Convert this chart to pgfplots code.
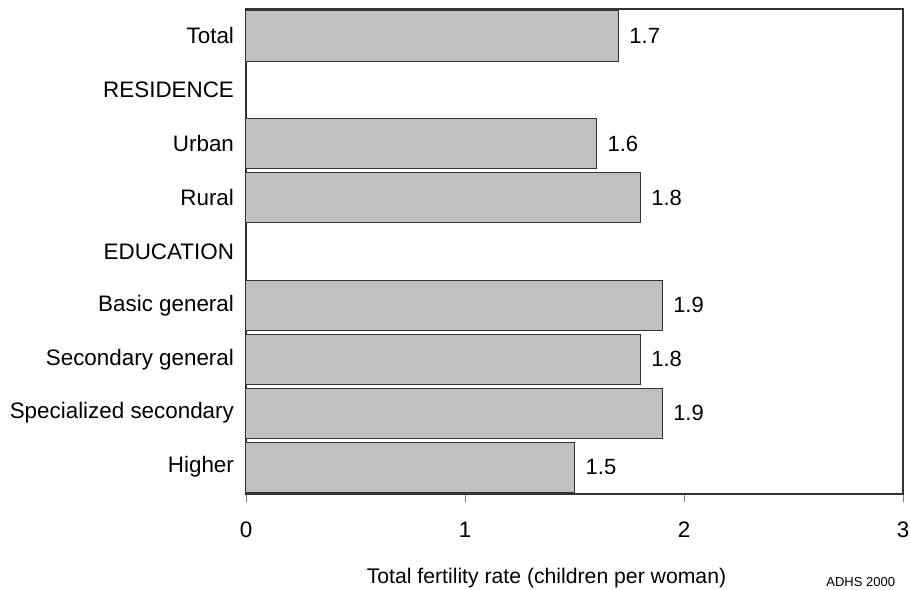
\documentclass[border=0pt]{standalone}
\usepackage{pgfplots}
\pgfplotsset{compat=1.18}
\usepackage{fontspec}
\setmainfont{Liberation Sans}
\definecolor{barfill}{RGB}{192,192,192}
\begin{document}
\begin{tikzpicture}
\begin{axis}[
  scale only axis,
  width=328.5pt, height=242.5pt,
  xbar, bar width=0.93,
  xmin=0, xmax=3,
  ymin=-0.5, ymax=8.5,
  y dir=reverse,
  xtick={0,1,2,3},
  ytick={0,...,8},
  yticklabels={Total,RESIDENCE,Urban,Rural,EDUCATION,Basic general,Secondary general,Specialized secondary,Higher},
  tick label style={font=\fontsize{11.2}{13}\selectfont},
  /pgf/number format/assume math mode=true,
  xtick pos=bottom, tick align=outside,
  major tick length=4pt,
  ytick style={draw=none},
  yticklabel style={xshift=1.5pt},
  xticklabel style={anchor=center, yshift=-14pt},
  axis line style={draw=black!80, line width=0.6pt},
  xlabel={Total fertility rate (children per woman)},
  xlabel style={font=\fontsize{10.6}{12}\selectfont, at={(axis description cs:0.5,0)}, anchor=center, yshift=-42pt, xshift=-14pt},
  point meta=explicit symbolic,
  nodes near coords,
  every node near coord/.append style={anchor=west, font=\fontsize{11}{13}\selectfont, xshift=2pt},
  clip=false,
]
\addplot[fill=barfill, draw=black!80, line width=0.5pt] coordinates {
  (1.7,0) [1.7]
  (1.6,2) [1.6]
  (1.8,3) [1.8]
  (1.9,5) [1.9]
  (1.8,6) [1.8]
  (1.9,7) [1.9]
  (1.5,8) [1.5]
};
\end{axis}
\node[anchor=south west, font=\fontsize{6.5}{7}\selectfont, inner sep=0pt] at (290pt,-46.5pt) {ADHS 2000};
\pgfresetboundingbox
\path[use as bounding box] (-123pt,-47.5pt) rectangle (332pt,247pt);
\end{tikzpicture}
\end{document}
